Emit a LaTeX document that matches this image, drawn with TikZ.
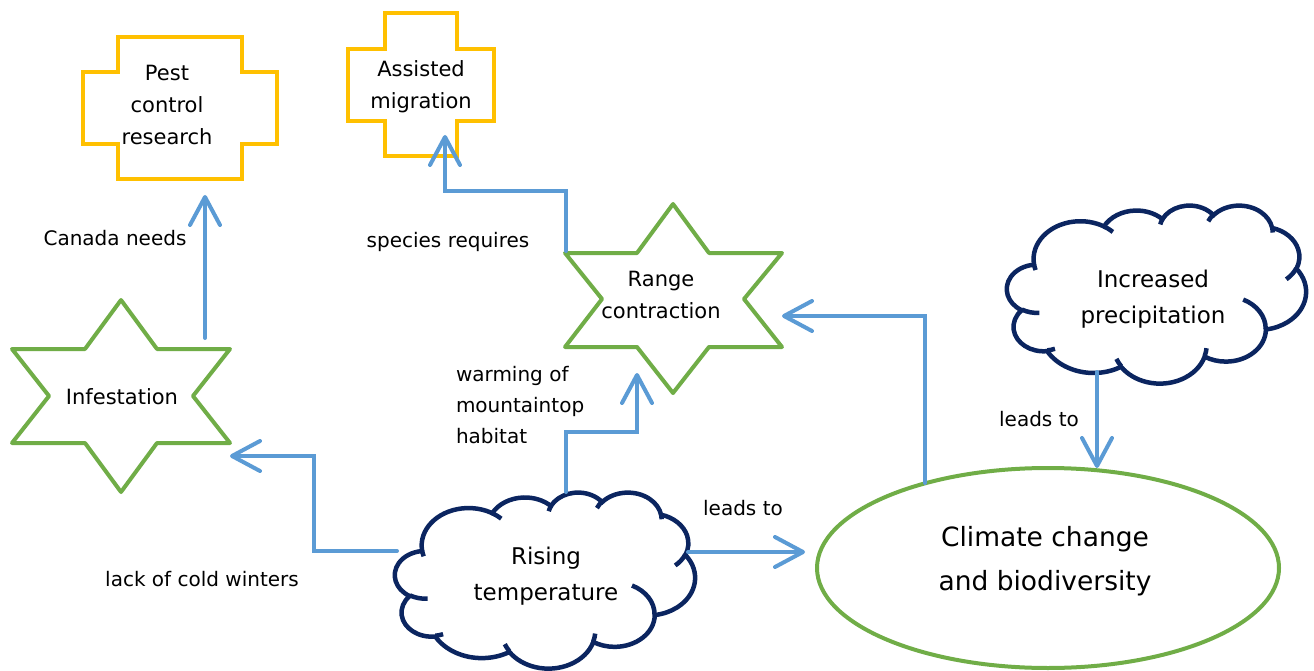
\documentclass[tikz,border=0pt]{standalone}
\usepackage{fontspec}
\setmainfont{DejaVu Sans}
\usetikzlibrary{shapes.geometric,arrows.meta,calc}
\definecolor{gold}{HTML}{FFC000}
\definecolor{leaf}{HTML}{70AD47}
\definecolor{sky}{HTML}{5B9BD5}
\definecolor{navy}{HTML}{0B2560}
\begin{document}
\begin{tikzpicture}[x=1pt,y=-1pt,
  every node/.style={inner sep=0pt,outer sep=0pt},
  area/.style={draw=none,rectangle},
  txt/.style={align=center,font=\fontsize{21}{32}\selectfont},
  cloudtxt/.style={align=center,font=\fontsize{23}{36}\selectfont},
  lbl/.style={font=\fontsize{20}{31}\selectfont},
  crossline/.style={draw=gold,line width=4pt,fill=white,line join=miter},
  starline/.style={draw=leaf,line width=4pt,fill=white,line join=round},
  cloudline/.style={draw=navy,line width=4.5pt},
  conn/.style={draw=sky,line width=4pt,line cap=round,-{Straight Barb[length=28pt,width=30pt,round]}},
  officecloud/.pic={
    \path[cloudline,fill=white] (39.00,143.70)
      arc[start angle=-187.75,end angle=-59.63,x radius=67.53,y radius=91.90]
      arc[start angle=-152.02,end angle=-45.45,x radius=53.33,y radius=72.67]
      arc[start angle=-153.49,end angle=-37.32,x radius=43.65,y radius=59.45]
      arc[start angle=-139.71,end angle=-10.22,x radius=48.57,y radius=65.95]
      arc[start angle=-74.77,end angle=23.21,x radius=53.33,y radius=72.73]
      arc[start angle=-37.54,end angle=81.86,x radius=67.75,y radius=92.20]
      arc[start angle=0.46,end angle=121.99,x radius=57.85,y radius=78.67]
      arc[start angle=16.85,end angle=146.23,x radius=67.52,y radius=92.15]
      arc[start angle=58.98,end angle=150.20,x radius=77.20,y radius=105.43]
      arc[start angle=83.31,end angle=223.12,x radius=43.60,y radius=59.18]
      arc[start angle=120.36,end angle=264.11,x radius=43.45,y radius=59.45]
      -- cycle;
    \path[cloudline]
      (46.93,261.77) arc[start angle=85.54,end angle=120.36,x radius=43.45,y radius=59.45]
      (69.28,348.99) arc[start angle=68.23,end angle=83.31,x radius=43.60,y radius=59.18]
      (164.78,390.90) arc[start angle=146.23,end angle=158.47,x radius=67.52,y radius=92.15]
      (288.27,347.51) arc[start angle=4.73,end angle=16.85,x radius=67.52,y radius=92.15]
      (341.29,229.54) arc[start angle=-64.02,end angle=0.46,x radius=57.85,y radius=78.67]
      (417.98,153.54) arc[start angle=23.21,end angle=49.64,x radius=53.33,y radius=72.73]
      (383.24,54.26) arc[start angle=-10.22,end angle=0.83,x radius=48.57,y radius=65.95]
      (290.78,39.52) arc[start angle=-156.29,end angle=-139.71,x radius=48.57,y radius=65.95]
      (221.41,47.20) arc[start angle=-167.72,end angle=-153.49,x radius=43.65,y radius=59.45]
      (140.00,51.92) arc[start angle=-59.63,end angle=-45.74,x radius=67.53,y radius=91.90]
      (41.27,157.89) arc[start angle=163.19,end angle=172.25,x radius=67.53,y radius=91.90];
  },
]
\useasboundingbox (0,0) rectangle (1314,671);

% shape areas
\node[area,minimum width=194pt,minimum height=142pt] (pest) at (180,108) {};
\node[area,minimum width=146pt,minimum height=143pt] (assist) at (421,84.5) {};
\node[area,minimum width=218pt,minimum height=192pt] (infest) at (121,396) {};
\node[area,minimum width=218pt,minimum height=190pt] (range) at (673,299) {};
\node[area,minimum width=300pt,minimum height=176pt] (rising) at (545,580) {};
\node[area,minimum width=299pt,minimum height=178pt] (precip) at (1156.5,294) {};

\begin{scope}[shift={(pest.center)}]
\path[crossline] (-62,-71) -- (62,-71) -- (62,-36) -- (97,-36) -- (97,36) -- (62,36) -- (62,71) -- (-62,71) -- (-62,36) -- (-97,36) -- (-97,-36) -- (-62,-36) -- cycle;
\end{scope}
\begin{scope}[shift={(assist.center)}]
\path[crossline] (-36,-71.5) -- (36,-71.5) -- (36,-35.5) -- (73,-35.5) -- (73,36.5) -- (36,36.5) -- (36,71.5) -- (-36,71.5) -- (-36,36.5) -- (-73,36.5) -- (-73,-35.5) -- (-36,-35.5) -- cycle;
\end{scope}
\begin{scope}[shift={(infest.center)}]
\path[starline] (0,-96) -- (36,-47) -- (109,-47) -- (72,0) -- (109,47) -- (36,47) -- (0,96) -- (-36,47) -- (-109,47) -- (-72,0) -- (-109,-47) -- (-36,-47) -- cycle;
\end{scope}
\begin{scope}[shift={(range.center)}]
\path[starline] (0,-95) -- (36,-46) -- (109,-46) -- (71,0) -- (109,48) -- (36,48) -- (0,94) -- (-36,48) -- (-108,48) -- (-71,0) -- (-108,-46) -- (-36,-46) -- cycle;
\end{scope}
\pic[xscale=0.6944,yscale=0.4074] at (rising.north west) {officecloud};
\pic[xscale=0.6921,yscale=0.4120] at (precip.north west) {officecloud};

\node[txt] (pestt) at (167,105) {Pest\\control\\research};
\node[txt] (assistt) at (421,87) {Assisted\\migration};
\node[txt] (infestt) at (122,397) {Infestation};
\node[txt] (ranget) at (661,295) {Range\\contraction};
\node[cloudtxt] (risingt) at (546,576) {Rising\\temperature};
\node[cloudtxt] (precipt) at (1153,299) {Increased\\precipitation};

\node[draw=leaf,line width=4pt,ellipse,minimum width=462pt,minimum height=200pt] (climate) at (1048,568) {};
\node[align=center,font=\fontsize{26.5}{44}\selectfont] (climatet) at (1045,561) {Climate change\\and biodiversity};

% connectors
\draw[conn] ([xshift=84pt,yshift=-38pt]infest.north) -- ([xshift=25pt,yshift=-16pt]pest.south);
\draw[conn] ([xshift=-148pt,yshift=29pt]rising.center) -- ++(-83pt,0pt) |- ([yshift=-60pt]infest.east);
\draw[conn] ([xshift=21pt,yshift=88pt]rising.center) -- ++(0pt,60pt) -| ([xshift=-36pt,yshift=21pt]range.south);
\draw[conn] ([xshift=143pt,yshift=28pt]rising.center) -- ([xshift=-12pt,yshift=16pt]climate.west);
\draw[conn] ([xshift=-123pt,yshift=85pt]climate.center) |- ([yshift=-17pt]range.east);
\draw[conn] ([xshift=-107pt,yshift=-47pt]range.north) -- ++(0pt,60pt) -| ([xshift=24pt,yshift=21pt]assist.south);
\draw[conn] ([xshift=-59.5pt,yshift=-78pt]precip.center) coordinate (g0) -- (g0 |- climate.north);

% labels
\node[lbl] (l1) at (115,238) {Canada needs};
\node[lbl] (l2) at (448,242) {species requires};
\node[lbl,align=left,anchor=west] (l3) at (456,405) {warming of\\mountaintop\\habitat};
\node[lbl] (l4) at (202,579) {lack of cold winters};
\node[lbl] (l5) at (743,508) {leads to};
\node[lbl] (l6) at (1039,419) {leads to};
\end{tikzpicture}
\end{document}
